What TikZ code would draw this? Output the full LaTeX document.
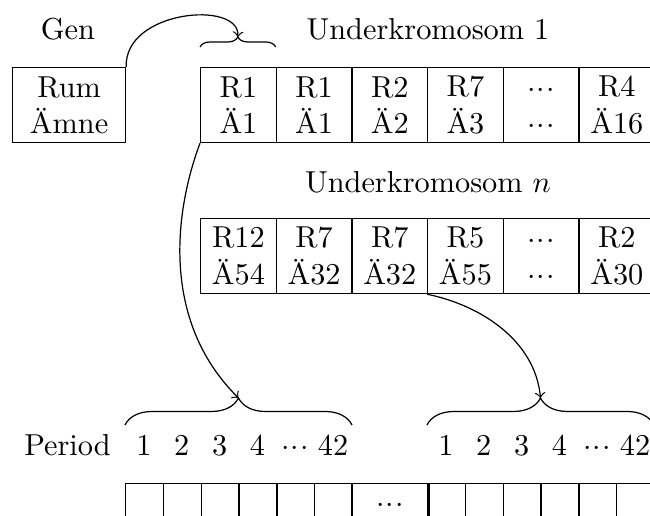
\documentclass[tikz,border=0pt]{standalone}
\usetikzlibrary{decorations.pathreplacing}
% three close centred dots
\newcommand{\tridots}{\ensuremath{{\cdot}\mkern0.5mu{\cdot}\mkern0.5mu{\cdot}}}
\begin{document}
\begin{tikzpicture}[x=0.33pt, y=-0.33pt,
  cell/.style={draw, minimum width=24.97pt, minimum height=24.75pt,
    inner sep=0pt, align=center, anchor=north west},
  genbox/.style={cell, minimum width=37.29pt},
  slot/.style={draw, minimum width=12.48pt, minimum height=12.9pt,
    inner sep=0pt, anchor=north west},
  wideslot/.style={slot, minimum width=24.75pt},
  lbl/.style={anchor=base, inner sep=0pt},
  sbrace/.style={decorate, decoration={brace, amplitude=#1}},
  link/.style={->},
  sep/.style={line width=0.9pt}
]
\useasboundingbox (0,0) rectangle (650,516);
\clip (0,0) rectangle (650,516);

% titles
\node[lbl] (gen) at (68,40) {Gen};
\node[lbl] (t1) at (428,40) {Underkromosom 1};
\node[lbl] (tn) at (428,193) {Underkromosom $n$};

% the gene box
\node[genbox] (rum) at (12,67) {Rum\\Ämne};

% sub-chromosome 1
\foreach \i/\t in {1/{R1\\Ä1}, 2/{R1\\Ä1}, 3/{R2\\Ä2}, 4/{R7\\Ä3},
                   5/{\tridots\vphantom{R}\\\tridots}, 6/{R4\\Ä16}}
  \node[cell] (c\i) at ({200+(\i-1)*75.67},67) {\t};

% sub-chromosome n
\foreach \i/\t in {1/{R12\\Ä54}, 2/{R7\\Ä32}, 3/{R7\\Ä32}, 4/{R5\\Ä55},
                   5/{\tridots\vphantom{R}\\\tridots}, 6/{R2\\Ä30}}
  \node[cell] (n\i) at ({200+(\i-1)*75.67},218) {\t};

% period row
\node[lbl] (period) at (67.5,456) {Period};
\foreach \i/\t in {1/1, 2/2, 3/3, 4/4, 5/\tridots, 6/42} {
  \node[lbl] (p\i) at ({125+(\i-0.5)*37.83},456) {\t};
  \node[lbl] (q\i) at ({427+(\i-0.5)*37.83},456) {\t};
}

% timetable slots
\foreach \i in {1,...,6} {
  \node[slot] (a\i) at ({125+(\i-1)*37.83},483) {};
  \node[slot] (b\i) at ({427+(\i-1)*37.83},483) {};
}
\node[wideslot, text height=6pt, text depth=0pt] (mid) at (352,483) {\tridots};
\draw[sep] (mid.north west) -- (mid.south west);
\draw[sep] (mid.north east) -- (mid.south east);

% braces
\coordinate (ua) at (200,47);
\coordinate (ub) at (275.67,47);
\coordinate (tipA) at (237.8,37);
\draw[sbrace=10*0.33pt] (ua) -- (ub);

\coordinate (la) at (125,425);
\coordinate (lb) at (352,425);
\coordinate (tipB) at (238.5,398);
\draw[sbrace=27*0.33pt] (la) -- (lb);

\coordinate (ra) at (427,425);
\coordinate (rb) at (654,425);
\coordinate (tipC) at (540.5,398);
\draw[sbrace=27*0.33pt] (ra) -- (rb);

% connectors
\draw[link] (rum.north east) .. controls (124,10) and (240,0) .. (tipA);
\draw[link] (c1.south west) .. controls (175,210) and (160,320) .. (tipB);
\draw[link] (n4.south west) .. controls (480,305) and (535,340) .. (tipC);
\end{tikzpicture}
\end{document}
